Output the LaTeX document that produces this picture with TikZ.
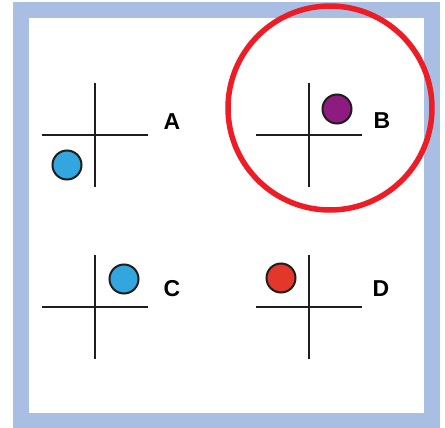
\documentclass[tikz,border=0pt]{standalone}
\usepackage{fontspec}
\setmainfont{Liberation Sans}
\usepackage{xcolor}
\definecolor{frameblue}{HTML}{A9BEE3}
\definecolor{ballblue}{HTML}{34A6DF}
\definecolor{ballpurple}{HTML}{8E1B7F}
\definecolor{ballred}{HTML}{E3372C}
\definecolor{ringred}{HTML}{EE1D25}
\definecolor{axisdark}{HTML}{1E1E1E}
\usepackage{tikz}

\begin{document}
\begin{tikzpicture}[x=1pt,y=-1pt,line cap=butt,
  axis/.style={line width=2.8pt,axisdark},
  ball/.style={circle,draw=axisdark,line width=2pt,inner sep=0pt,minimum size=29pt},
  tag/.style={font=\fontsize{23}{23}\selectfont\bfseries,inner sep=0pt}]
  \useasboundingbox (0,0) rectangle (445,428);

  % frame
  \fill[frameblue] (13,2) rectangle (440,428);
  \fill[white] (29,18) rectangle (424,413);

  % crosses
  \foreach \cx/\cy/\nm in {95/135/A,309/135/B,95/307/C,309/307/D}{
    \coordinate (o\nm) at (\cx,\cy);
    \draw[axis] (\cx-53,\cy) -- (\cx+53,\cy);
    \draw[axis] (\cx,\cy-52) -- (\cx,\cy+52);
  }

  % balls
  \node[ball,fill=ballblue]   (bA) at (67,165)  {};
  \node[ball,fill=ballpurple] (bB) at (337,109) {};
  \node[ball,fill=ballblue]   (bC) at (124,279) {};
  \node[ball,fill=ballred]    (bD) at (281,278) {};

  % labels
  \node[tag] (lA) at (172,122) {A};
  \node[tag] (lB) at (382,121) {B};
  \node[tag] (lC) at (172,289) {C};
  \node[tag] (lD) at (381,289) {D};

  % ring
  \draw[ringred,line width=5.5pt] (330,108) circle (102);
\end{tikzpicture}
\end{document}
